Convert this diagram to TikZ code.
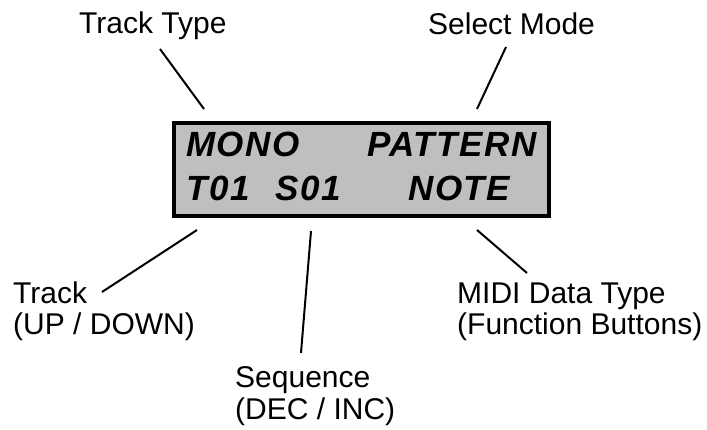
\documentclass[tikz,border=0pt]{standalone}
\usepackage{fontspec}
\setmainfont{Liberation Sans}
\newfontfamily\lcdfont[LetterSpace=4.5]{Liberation Sans}
\definecolor{lcdgray}{RGB}{190,191,193}
\tikzset{
  lbl/.style={anchor=base west, align=left, font=\fontsize{30}{32}\selectfont},
  lcd/.style={anchor=base west, font=\lcdfont\bfseries\itshape\fontsize{35}{35}\selectfont},
  ptr/.style={black, line width=2pt}
}
\begin{document}
\begin{tikzpicture}[x=1pt,y=-1pt]
    \tikzstyle{every node}+=[inner sep=0pt]
    \useasboundingbox (0,0) rectangle (707,430);
    % display
    \draw [black, line width=4pt, fill=lcdgray] (174,123) rectangle (549,216);
    \node [lcd] (mono) at (186,157) {MONO};
    \node [lcd] (pattern) at (367,157) {PATTERN};
    \node [lcd] (t01) at (186,201) {T01};
    \node [lcd] (s01) at (275,201) {S01};
    \node [lcd] (note) at (408,201) {NOTE};
    % labels (base = last line)
    \node [lbl] (ttype) at (79,34) {Track Type};
    \node [lbl] (smode) at (428,35) {Select Mode};
    \node [lbl] (track) at (13,335) {Track\\(UP / DOWN)};
    \node [lbl] (seq) at (235,419) {Sequence\\(DEC / INC)};
    \node [lbl] (midi) at (457,335) {MIDI Data Type\\(Function Buttons)};
    % pointer ends
    \coordinate (ttype-a) at (160,49);
    \coordinate (ttype-b) at (204,109);
    \coordinate (smode-a) at (506,47);
    \coordinate (smode-b) at (477,109);
    \coordinate (track-a) at (102,292);
    \coordinate (track-b) at (197,230);
    \coordinate (seq-a) at (301,353);
    \coordinate (seq-b) at (311,231);
    \coordinate (midi-a) at (527,273);
    \coordinate (midi-b) at (477,230);
    \draw [ptr] (ttype-a) -- (ttype-b);
    \draw [ptr] (smode-a) -- (smode-b);
    \draw [ptr] (track-a) -- (track-b);
    \draw [ptr] (seq-a) -- (seq-b);
    \draw [ptr] (midi-a) -- (midi-b);
\end{tikzpicture}
\end{document}
